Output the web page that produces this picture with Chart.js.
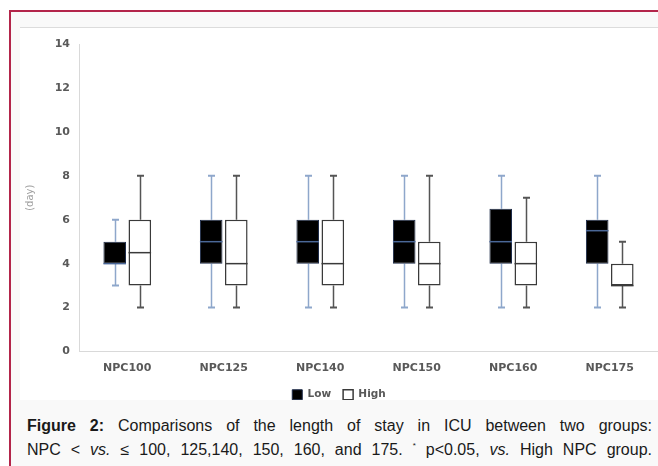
<!DOCTYPE html>
<html>
<head>
<meta charset="utf-8">
<script src="https://cdn.jsdelivr.net/npm/chart.js@4.4.1/dist/chart.umd.min.js"></script>
<style>
  html, body { margin: 0; padding: 0; background: #ffffff; width: 658px; height: 466px; overflow: hidden; }
  #frame { position: absolute; left: 9px; top: 10px; width: 660px; height: 470px;
           border-top: 2px solid #b3254a; border-left: 2px solid #b3254a; background: #f9f9f9; }
  #chartbox { position: absolute; left: 20px; top: 27px; width: 638px; height: 373px;
              border-top: 1px solid #dcdcdc; background: #ffffff; }
  #c { position: absolute; left: 20px; top: 28px; }
  #capbg { position: absolute; left: 11px; top: 400px; width: 660px; height: 70px; background: #f9f9f9; z-index: 2; }
  #caption { position: absolute; left: 27px; top: 414px; width: 625px; z-index: 3;
             font-family: "Liberation Sans", Arial, sans-serif; font-size: 16px; line-height: 24px; color: #1a1a1a; }
  #caption div { text-align: justify; text-align-last: justify; white-space: nowrap; }
  #caption b { font-weight: bold; }
  #caption sup { font-size: 8px; vertical-align: 7px; line-height: 0; }
</style>
</head>
<body>
<div id="frame"></div>
<div id="chartbox"></div>
<canvas id="c" width="638" height="400"></canvas>
<div id="capbg"></div>
<div id="caption">
  <div><b>Figure 2:</b> Comparisons of the length of stay in ICU between two groups:</div>
  <div>NPC &lt; <i>vs.</i> ≤ 100, 125,140, 150, 160, and 175. <sup>*</sup> p&lt;0.05, <i>vs.</i> High NPC group.</div>
</div>
<script>
// ---- data ----
const categories = ["NPC100", "NPC125", "NPC140", "NPC150", "NPC160", "NPC175"];
const seriesNames = ["Low", "High"];
const lowMin    = [3, 2, 2, 2, 2, 2];
const lowQ1     = [4, 4, 4, 4, 4, 4];
const lowMedian = [4, 5, 5, 5, 5, 5.5];
const lowQ3     = [5, 6, 6, 6, 6.5, 6];
const lowMax    = [6, 8, 8, 8, 8, 8];
const highMin    = [2, 2, 2, 2, 2, 2];
const highQ1     = [3, 3, 3, 3, 3, 3];
const highMedian = [4.5, 4, 4, 4, 4, 3];
const highQ3     = [6, 6, 6, 5, 5, 4];
const highMax    = [8, 8, 8, 8, 7, 5];
const yTicks = [0, 2, 4, 6, 8, 10, 12, 14];
const yTitle = "(day)";

const stats = [
  { min: lowMin, q1: lowQ1, med: lowMedian, q3: lowQ3, max: lowMax, whisker: "#8ea7cb", median: "#4a6797" },
  { min: highMin, q1: highQ1, med: highMedian, q3: highQ3, max: highMax, whisker: "#555555", median: "#3a3a3a" }
];

const whiskerPlugin = {
  id: "whiskers",
  beforeDatasetsDraw(chart) {
    const ctx = chart.ctx, y = chart.scales.y;
    stats.forEach((s, di) => {
      const meta = chart.getDatasetMeta(di);
      meta.data.forEach((bar, i) => {
        const x = Math.round(bar.x) + 0.5;
        const capW = 3.5;
        ctx.save();
        ctx.strokeStyle = s.whisker;
        ctx.lineWidth = 1.5;
        const pMax = y.getPixelForValue(s.max[i]), pQ3 = y.getPixelForValue(s.q3[i]);
        const pMin = y.getPixelForValue(s.min[i]), pQ1 = y.getPixelForValue(s.q1[i]);
        ctx.beginPath();
        ctx.moveTo(x, pMax); ctx.lineTo(x, pQ3);
        ctx.moveTo(x, pQ1); ctx.lineTo(x, pMin);
        ctx.stroke();
        ctx.lineWidth = 2;
        ctx.beginPath();
        ctx.moveTo(x - capW, pMax); ctx.lineTo(x + capW, pMax);
        ctx.moveTo(x - capW, pMin); ctx.lineTo(x + capW, pMin);
        ctx.stroke();
        ctx.restore();
      });
    });
  },
  afterDatasetsDraw(chart) {
    const ctx = chart.ctx, y = chart.scales.y;
    stats.forEach((s, di) => {
      const meta = chart.getDatasetMeta(di);
      meta.data.forEach((bar, i) => {
        const pm = y.getPixelForValue(s.med[i]);
        ctx.save();
        ctx.strokeStyle = s.median;
        ctx.lineWidth = 1.5;
        ctx.beginPath();
        ctx.moveTo(bar.x - bar.width / 2, pm);
        ctx.lineTo(bar.x + bar.width / 2, pm);
        ctx.stroke();
        ctx.restore();
      });
    });
  }
};

const tickFont = { family: "'DejaVu Sans', sans-serif", size: 11, weight: "bold" };

new Chart(document.getElementById("c"), {
  type: "bar",
  data: {
    labels: categories,
    datasets: [
      { label: seriesNames[0], data: lowQ1.map((v, i) => [v, lowQ3[i]]),
        backgroundColor: "#000000", borderColor: "#1c2a48", borderWidth: 1, borderSkipped: false },
      { label: seriesNames[1], data: highQ1.map((v, i) => [v, highQ3[i]]),
        backgroundColor: "#ffffff", borderColor: "#3a3a3a", borderWidth: 1.5, borderSkipped: false }
    ]
  },
  options: {
    responsive: false,
    animation: false,
    devicePixelRatio: 1,
    categoryPercentage: 0.52,
    barPercentage: 0.9,
    layout: { padding: { top: 16, right: 0, bottom: 18, left: 0 } },
    plugins: {
      tooltip: { enabled: false },
      legend: {
        position: "bottom",
        labels: {
          boxWidth: 10, boxHeight: 10, padding: 12,
          color: "#595959",
          font: { family: "'DejaVu Sans', sans-serif", size: 10.5, weight: "bold" }
        }
      }
    },
    scales: {
      x: {
        grid: { display: false, drawTicks: false },
        border: { display: true, color: "#d9d9d9", width: 1 },
        ticks: { color: "#595959", font: tickFont, padding: 10, maxRotation: 0 },
        afterFit(scale) { scale.height = 26; }
      },
      y: {
        min: 0, max: 14,
        afterBuildTicks(scale) { scale.ticks = yTicks.map(v => ({ value: v })); },
        grid: { display: false, drawTicks: false },
        border: { display: true, color: "#d9d9d9", width: 1 },
        ticks: { color: "#595959", font: tickFont, padding: 9 },
        title: { display: true, text: yTitle, color: "#a0a0a0",
                 font: { family: "'DejaVu Sans', sans-serif", size: 10 }, padding: { top: 4, bottom: 0 } },
        afterFit(scale) { scale.width = 59; }
      }
    }
  },
  plugins: [whiskerPlugin]
});
</script>
</body>
</html>
